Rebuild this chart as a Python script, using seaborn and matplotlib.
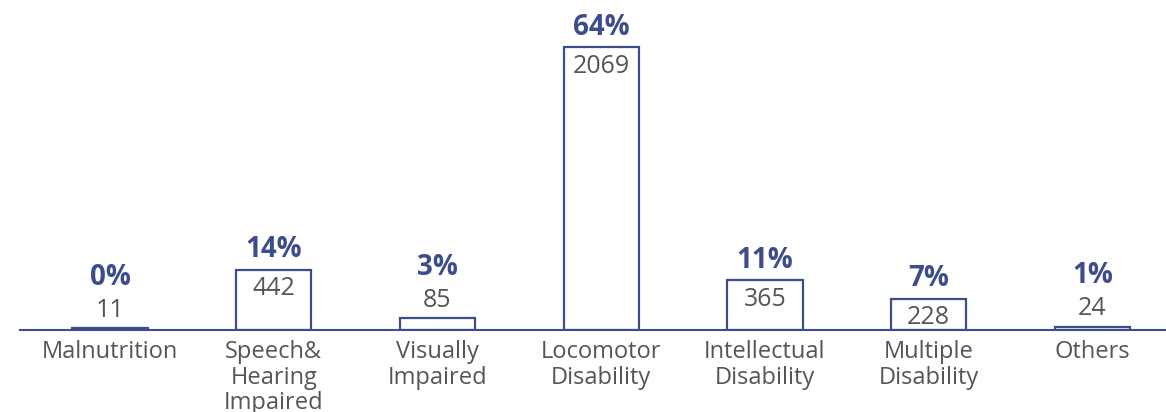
import pandas as pd
import matplotlib.pyplot as plt
import seaborn as sns

categories = ['Malnutrition', 'Speech&\nHearing\nImpaired', 'Visually\nImpaired',
              'Locomotor\nDisability', 'Intellectual\nDisability', 'Multiple\nDisability', 'Others']
counts = [11, 442, 85, 2069, 365, 228, 24]
percents = ['0%', '14%', '3%', '64%', '11%', '7%', '1%']

blue = '#3d4c8c'
gray = '#555555'

df = pd.DataFrame({'Category': categories, 'Count': counts})

sns.set_style('white')
plt.rcParams['font.family'] = ['Open Sans', 'DejaVu Sans']

fig = plt.figure(figsize=(11.66, 4.12), dpi=100)
ax = fig.add_axes([20 / 1166, 1 - 330 / 412, 1 - 20 / 1166, 330 / 412])

sns.barplot(data=df, x='Category', y='Count', color='white', saturation=1,
            edgecolor=blue, linewidth=1.6, width=0.46, ax=ax)

ax.set_ylim(0, 2413)
ax.set_xlim(-0.55, 6.45)

for i, (c, p) in enumerate(zip(counts, percents)):
    if c > 150:
        ax.annotate(str(c), (i, c), xytext=(0, -19), textcoords='offset pixels',
                    ha='center', va='center', fontsize=18, color=gray)
        ax.annotate(p, (i, c), xytext=(0, 20), textcoords='offset pixels',
                    ha='center', va='center', fontsize=20, color=blue, fontweight='bold')
    else:
        ax.annotate(str(c), (i, c), xytext=(0, 18), textcoords='offset pixels',
                    ha='center', va='center', fontsize=18, color=gray)
        ax.annotate(p, (i, c), xytext=(0, 51), textcoords='offset pixels',
                    ha='center', va='center', fontsize=20, color=blue, fontweight='bold')

ax.set_xlabel('')
ax.set_ylabel('')
ax.set_yticks([])
for s in ['top', 'right', 'left']:
    ax.spines[s].set_visible(False)
ax.spines['bottom'].set_color(blue)
ax.spines['bottom'].set_linewidth(1.5)
ax.tick_params(axis='x', length=0, pad=7, labelsize=17, labelcolor=gray)
for t in ax.get_xticklabels():
    t.set_linespacing(1.1)

fig.savefig('out.png', dpi=100)
